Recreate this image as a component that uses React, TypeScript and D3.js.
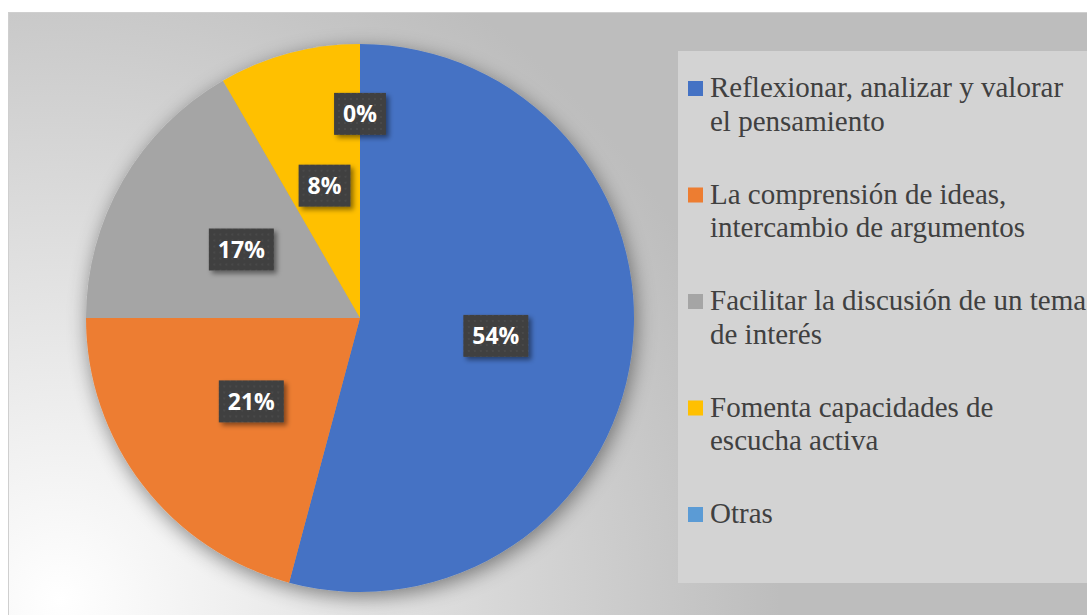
import { useEffect, useRef } from 'react';
import * as d3 from 'd3';

// Responses per category (13 of 24 etc.)
const categories = [
  'Reflexionar, analizar y valorar\nel pensamiento',
  'La comprensión de ideas,\nintercambio de argumentos',
  'Facilitar la discusión de un tema\nde interés',
  'Fomenta capacidades de\nescucha activa',
  'Otras',
];
const values = [13, 5, 4, 2, 0];
const colors = ['#4472C4', '#ED7D31', '#A5A5A5', '#FFC000', '#5B9BD5'];

const App = () => {
  const svgRef = useRef<SVGSVGElement | null>(null);

  useEffect(() => {
    if (!svgRef.current) return;
    const svg = d3.select(svgRef.current);
    svg.selectAll('*').remove();

    const width = 1087;
    const height = 615;
    const cx = 360;
    const cy = 318;
    const radius = 274;

    const defs = svg.append('defs');
    const bg = defs.append('radialGradient')
      .attr('id', 'bgGrad')
      .attr('gradientUnits', 'userSpaceOnUse')
      .attr('cx', 60).attr('cy', 600).attr('r', 720);
    bg.append('stop').attr('offset', '0%').attr('stop-color', '#ffffff');
    bg.append('stop').attr('offset', '100%').attr('stop-color', '#bdbdbd');

    const pieShadow = defs.append('filter').attr('id', 'pieShadow')
      .attr('x', '-20%').attr('y', '-20%').attr('width', '140%').attr('height', '140%');
    pieShadow.append('feDropShadow')
      .attr('dx', 2).attr('dy', 5).attr('stdDeviation', 10)
      .attr('flood-color', '#000').attr('flood-opacity', 0.45);

    const boxShadow = defs.append('filter').attr('id', 'boxShadow')
      .attr('x', '-30%').attr('y', '-30%').attr('width', '160%').attr('height', '160%');
    boxShadow.append('feDropShadow')
      .attr('dx', 3).attr('dy', 3).attr('stdDeviation', 2.5)
      .attr('flood-color', '#000').attr('flood-opacity', 0.45);

    const dots = defs.append('pattern').attr('id', 'dots')
      .attr('patternUnits', 'userSpaceOnUse').attr('width', 6).attr('height', 6);
    dots.append('rect').attr('width', 6).attr('height', 6).attr('fill', '#404040');
    dots.append('circle').attr('cx', 3).attr('cy', 3).attr('r', 1).attr('fill', '#4c4c4c');

    // Chart area
    svg.append('rect')
      .attr('x', 8.5).attr('y', 12.5)
      .attr('width', width).attr('height', height)
      .attr('fill', 'url(#bgGrad)')
      .attr('stroke', '#cfcfcf');

    const pie = d3.pie<number>().sort(null).value((d) => d);
    const arcs = pie(values);
    const arc = d3.arc<d3.PieArcDatum<number>>().innerRadius(0).outerRadius(radius);

    const g = svg.append('g').attr('transform', `translate(${cx},${cy})`);
    g.append('g').attr('filter', 'url(#pieShadow)')
      .selectAll('path')
      .data(arcs)
      .join('path')
      .attr('d', arc)
      .attr('fill', (_, i) => colors[i]);

    // Data labels (a zero slice gets its label pushed further out)
    const total = d3.sum(values);
    const labelArc = d3.arc<d3.PieArcDatum<number>>().innerRadius(0).outerRadius(radius);
    const zeroArc = d3.arc<d3.PieArcDatum<number>>().innerRadius(radius * 0.745).outerRadius(radius * 0.745);
    arcs.forEach((a) => {
      const [lx, ly] = a.value === 0 ? zeroArc.centroid(a) : labelArc.centroid(a);
      const lg = g.append('g').attr('transform', `translate(${lx},${ly})`);
      const rect = lg.append('rect').attr('fill', 'url(#dots)').attr('filter', 'url(#boxShadow)');
      const t = lg.append('text')
        .attr('text-anchor', 'middle')
        .attr('dy', '0.36em')
        .style('font-family', 'Open Sans, sans-serif')
        .attr('font-weight', 'bold')
        .attr('font-size', 23)
        .attr('fill', '#ffffff')
        .text(`${Math.round((a.value / total) * 100)}%`);
      const tw = (t.node() as SVGTextElement).getComputedTextLength();
      const bw = tw + 18;
      const bh = 42;
      rect.attr('x', -bw / 2).attr('y', -bh / 2).attr('width', bw).attr('height', bh);
    });

    // Legend
    svg.append('rect')
      .attr('x', 678).attr('y', 51)
      .attr('width', 420).attr('height', 532)
      .attr('fill', '#d3d3d3');

    const legend = svg.append('g');
    const itemY = d3.scalePoint<number>().domain(d3.range(categories.length)).range([97, 523]);
    categories.forEach((c, i) => {
      const y = itemY(i) as number;
      legend.append('rect')
        .attr('x', 688).attr('y', y - 16)
        .attr('width', 15).attr('height', 15)
        .attr('fill', colors[i]);
      const text = legend.append('text')
        .attr('x', 710).attr('y', y)
        .style('font-family', 'Liberation Serif, Times New Roman, DejaVu Serif, serif')
        .attr('font-size', 29)
        .attr('fill', '#404040');
      c.split('\n').forEach((line, j) => {
        text.append('tspan')
          .attr('x', 710)
          .attr('y', y + j * 33.5)
          .text(line);
      });
    });
  }, []);

  return (
    <svg
      ref={svgRef}
      width={1087}
      height={615}
      style={{ position: 'absolute', left: 0, top: 0, display: 'block' }}
    ></svg>
  );
};

export default App;
